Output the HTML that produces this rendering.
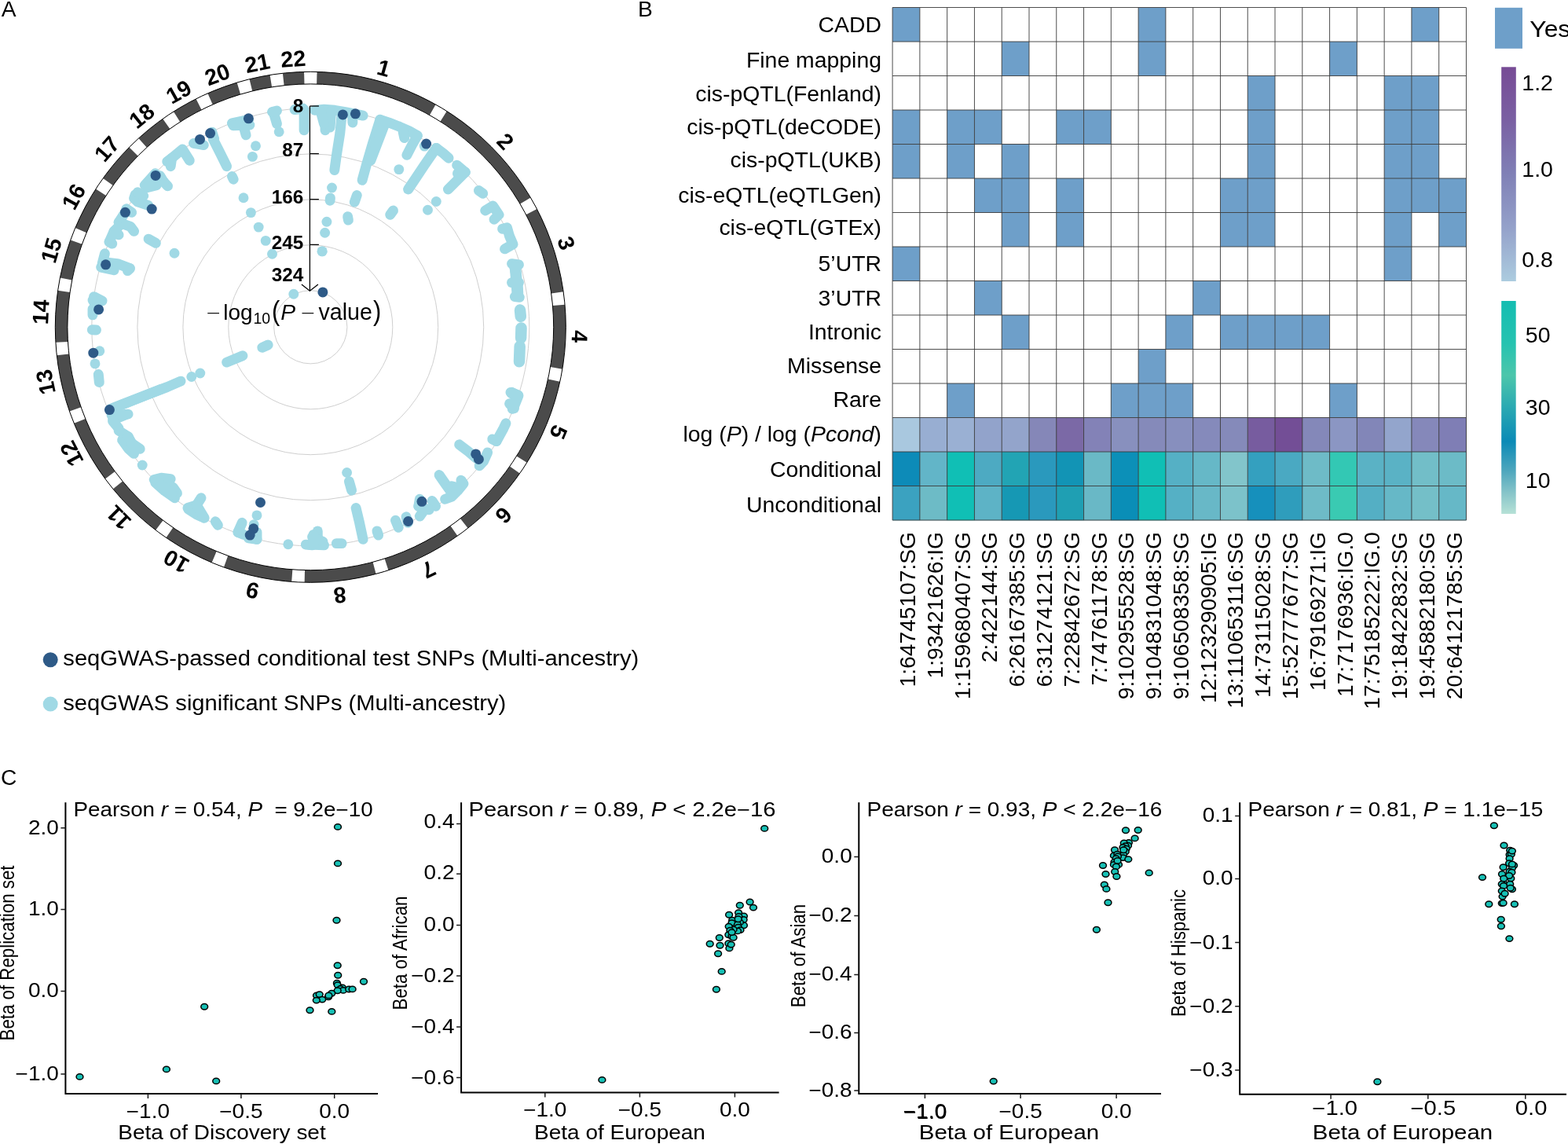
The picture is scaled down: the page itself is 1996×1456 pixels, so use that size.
<!DOCTYPE html>
<html lang="en"><head><meta charset="utf-8"><title>Figure</title>
<style>html,body{margin:0;padding:0;background:#fff}body{width:1996px;height:1456px;overflow:hidden}svg{display:block}text{white-space:pre}</style>
</head><body>
<svg width="1996" height="1456" viewBox="0 0 1996 1456" font-family='"Liberation Sans", sans-serif'>
<rect width="1996" height="1456" fill="#fff"/>
<g font-family='"Liberation Sans", sans-serif' font-size="28.2" fill="#000"><text x="1.8" y="20.9">A</text><text x="812.1" y="20.7">B</text><text x="1.1" y="998.9">C</text></g>
<g id="panelA">
<circle cx="395.3" cy="416.3" r="46.6" fill="none" stroke="#cfcfcf" stroke-width="1"/>
<circle cx="395.3" cy="416.3" r="104.5" fill="none" stroke="#cfcfcf" stroke-width="1"/>
<circle cx="395.3" cy="416.3" r="162.4" fill="none" stroke="#cfcfcf" stroke-width="1"/>
<circle cx="395.3" cy="416.3" r="220.4" fill="none" stroke="#cfcfcf" stroke-width="1"/>
<circle cx="395.3" cy="416.3" r="278.5" fill="none" stroke="#cfcfcf" stroke-width="1"/>
<g fill="none" stroke="#a0d9e5" stroke-width="12.9" stroke-linecap="round" stroke-linejoin="round">
<path d="M400.5 140.3 L412.5 139.2 L426.1 140.3 L439.6 142.5 L462.1 147.1"/>
<path d="M414.0 142.5 L414.0 165.8"/>
<path d="M421.6 142.5 L420.1 162.1"/>
<path d="M408.0 141.0 L412.5 157.6"/>
<path d="M435.1 145.6 L432.8 169.6 L428.3 198.2 L425.8 216.5"/>
<path d="M448.6 148.6 L448.9 156.1"/>
<path d="M422.5 239.0 l0.01 0"/>
<path d="M420.4 252.0 L420.1 255.3"/>
<path d="M415.9 282.3 l0.01 0"/>
<path d="M413.6 296.3 l0.01 0"/>
<path d="M410.1 319.9 l0.01 0"/>
<path d="M483.9 152.3 L474.2 183.1 L466.7 208.7 L461.1 229.3"/>
<path d="M489.2 159.1 L471.9 204.2"/>
<path d="M483.9 152.3 L495.2 156.1 L508.7 161.3 L520.8 166.6 L531.3 172.6"/>
<path d="M513.2 168.1 L514.8 175.6"/>
<path d="M531.3 172.6 L525.3 183.1 L517.8 197.4"/>
<path d="M507.8 215.6 l0.01 0"/>
<path d="M500.5 268.0 L496.7 273.3"/>
<path d="M454.3 248.5 L451.3 257.1"/>
<path d="M442.6 275.6 L443.4 280.1"/>
<path d="M540.3 186.1 l0.01 0"/>
<path d="M555.3 188.4 L540.3 210.2 L528.3 228.2 L519.6 241.0"/>
<path d="M555.3 188.4 L564.3 195.2 L571.1 201.2"/>
<path d="M555.3 256.5 l0.01 0"/>
<path d="M544.5 267.3 l0.01 0"/>
<path d="M581.6 210.2 L592.2 219.2"/>
<path d="M582.4 220.7 L592.2 219.2"/>
<path d="M592.2 219.2 L579.4 232.0 L570.4 241.0"/>
<path d="M609.4 242.5 L614.7 246.3"/>
<path d="M617.7 268.0 L627.5 262.0 L635.0 273.3 L629.0 279.3"/>
<path d="M639.5 291.3 L645.5 289.8 L648.5 300.4 L653.0 310.9 L642.5 316.9"/>
<path d="M410.1 319.9 l0.01 0"/>
<path d="M651.5 335.6 L660.5 336.8"/>
<path d="M654.5 338.6 L656.8 349.1"/>
<path d="M651.5 359.6 L660.5 359.6"/>
<path d="M659.0 361.1 L659.8 373.1"/>
<path d="M655.3 377.6 L661.3 378.4"/>
<path d="M650.0 499.4 L659.8 503.1"/>
<path d="M657.5 503.9 L652.3 520.4"/>
<path d="M648.5 513.7 L654.5 519.7"/>
<path d="M662.0 394.5 L662.8 402.9" stroke-width="14.5"/>
<path d="M663.5 417.5 L663.1 430.2" stroke-width="14.5"/>
<path d="M661.7 440.8 L661.0 460.3" stroke-width="14.5"/>
<path d="M656.0 340.1 L659.0 376.1" stroke-width="14.5"/>
<path d="M651.5 500.1 L659.0 503.9 L653.0 518.9" stroke-width="14.5"/>
<path d="M644.0 538.8 L641.0 545.1 L636.5 553.4 L632.0 561.6"/>
<path d="M626.7 558.9 L632.0 561.6"/>
<path d="M584.6 565.8 L595.9 574.4 L606.4 583.4"/>
<path d="M620.7 575.9 L615.5 587.2 L610.2 592.9"/>
<path d="M559.1 604.5 L567.4 616.5 L574.9 627.0"/>
<path d="M586.9 611.2 L589.9 615.7 L582.4 624.8 L574.9 632.3 L566.6 635.3"/>
<path d="M574.9 618.7 L580.9 620.2"/>
<path d="M534.3 635.3 L532.8 644.3"/>
<path d="M550.1 637.5 L554.6 644.3"/>
<path d="M540.3 648.8 L534.3 657.1"/>
<path d="M532.8 644.3 L546.3 648.8"/>
<path d="M503.5 662.3 L507.2 671.3"/>
<path d="M517.0 657.8 L519.3 665.3"/>
<path d="M453.1 646.5 L457.6 665.3 L462.1 686.4"/>
<path d="M479.9 675.9 L481.7 681.1"/>
<path d="M441.6 601.5 l0.01 0"/>
<path d="M444.4 612.7 L447.6 624.0"/>
<path d="M404.3 675.9 L404.3 692.4"/>
<path d="M393.0 693.1 L412.5 693.9"/>
<path d="M397.5 683.4 L411.0 689.4"/>
<path d="M428.3 691.6 L435.1 691.6"/>
<path d="M387.1 139.5 L387.1 165.8"/>
<path d="M375.1 139.5 L385.6 138.0"/>
<path d="M348.0 142.5 L352.5 157.6"/>
<path d="M355.2 167.8 l0.01 0"/>
<path d="M346.5 142.5 L352.5 141.0"/>
<path d="M295.4 156.8 L316.4 152.3"/>
<path d="M296.9 159.8 L317.9 159.1"/>
<path d="M310.4 162.1 L313.1 171.9"/>
<path d="M325.5 185.7 l0.01 0"/>
<path d="M321.4 199.4 l0.01 0"/>
<path d="M246.5 182.4 L259.3 184.6"/>
<path d="M269.8 168.1 L272.8 177.1"/>
<path d="M271.3 177.1 L280.4 195.2 L288.6 211.7"/>
<path d="M295.4 224.5 L297.2 228.2"/>
<path d="M212.7 205.7 L218.7 201.2 L232.3 189.9 L241.3 204.2"/>
<path d="M217.2 211.7 L218.7 201.2"/>
<path d="M197.7 220.7 L184.2 235.7"/>
<path d="M199.2 235.7 L187.2 238.7"/>
<path d="M208.2 231.2 L213.5 236.9"/>
<path d="M203.7 223.7 L208.2 231.2"/>
<path d="M172.1 247.8 L170.6 252.3 L175.2 256.8 L188.7 261.3"/>
<path d="M175.2 244.8 L182.7 249.3"/>
<path d="M160.9 265.8 L167.6 270.3"/>
<path d="M159.4 270.3 L151.1 283.1"/>
<path d="M151.1 283.1 L166.1 288.3 L170.6 294.3"/>
<path d="M145.1 294.3 L151.1 298.9"/>
<path d="M139.1 307.9 L142.8 310.1"/>
<path d="M151.1 288.3 L145.1 294.3 L139.1 307.9"/>
<path d="M189.0 304.1 L198.4 309.4"/>
<path d="M222.0 322.2 l0.01 0"/>
<path d="M310.0 251.7 l0.01 0"/>
<path d="M319.4 270.6 l0.01 0"/>
<path d="M329.2 289.1 l0.01 0"/>
<path d="M338.2 306.4 l0.01 0"/>
<path d="M346.5 323.2 l0.01 0"/>
<path d="M133.4 322.8 L130.1 335.6"/>
<path d="M128.6 340.1 L145.1 343.8"/>
<path d="M134.6 334.0 L149.6 335.6 L165.4 341.6"/>
<path d="M162.4 344.6 L165.4 341.6"/>
<path d="M119.5 377.6 L130.1 382.9"/>
<path d="M118.0 382.1 L121.0 386.7"/>
<path d="M118.0 393.4 L118.0 400.9"/>
<path d="M117.3 419.7 L122.5 420.0"/>
<path d="M126.8 446.8 l0.01 0"/>
<path d="M121.0 462.9 l0.01 0"/>
<path d="M125.3 476.5 L126.3 486.6"/>
<path d="M140.6 520.4 L175.2 506.9 L212.7 492.6 L230.0 485.1"/>
<path d="M143.6 519.7 L205.2 495.2"/>
<path d="M243.8 479.5 l0.01 0"/>
<path d="M254.8 475.0 l0.01 0"/>
<path d="M288.6 461.1 L308.9 452.8"/>
<path d="M333.7 442.3 L341.2 439.0"/>
<path d="M373.8 374.3 l0.01 0"/>
<path d="M143.6 534.6 L160.1 527.8"/>
<path d="M142.1 528.6 L163.1 527.1"/>
<path d="M143.6 536.1 L151.1 545.1"/>
<path d="M151.1 548.1 L163.1 555.6 L166.1 563.1 L178.2 571.4"/>
<path d="M155.6 560.1 L163.1 570.6 L170.6 577.4"/>
<path d="M163.1 555.6 L172.1 572.1"/>
<path d="M181.2 592.0 l0.01 0"/>
<path d="M196.2 610.5 L205.2 608.2 L217.2 609.7"/>
<path d="M197.7 614.2 L209.7 624.8 L222.5 633.8"/>
<path d="M208.2 614.2 L220.2 620.2 L225.5 627.8"/>
<path d="M205.2 617.2 L218.7 629.3"/>
<path d="M256.0 633.8 L250.3 642.8"/>
<path d="M239.0 646.5 L250.3 642.8"/>
<path d="M239.8 648.0 L250.3 654.8 L260.1 659.3"/>
<path d="M250.3 642.8 L259.3 657.8"/>
<path d="M274.3 663.8 L277.4 668.3"/>
<path d="M308.2 665.3 L302.9 677.4"/>
<path d="M302.9 677.4 L310.4 680.4"/>
<path d="M327.0 655.9 l0.01 0"/>
<path d="M323.2 667.6 l0.01 0"/>
<path d="M327.0 677.4 L327.0 686.4"/>
<path d="M316.4 684.9 L327.0 686.4"/>
<path d="M366.8 692.7 l0.01 0"/>
<path d="M389.3 693.1 L397.6 693.9"/>
<path d="M399.1 680.4 L399.1 692.4"/>
</g>
<g fill="#2e5a87">
<circle cx="436.4" cy="145.9" r="6.5"/>
<circle cx="452.4" cy="144.8" r="6.5"/>
<circle cx="542.6" cy="183.1" r="6.5"/>
<circle cx="410.9" cy="371.9" r="6.5"/>
<circle cx="605.7" cy="577.9" r="6.5"/>
<circle cx="609.4" cy="584.5" r="6.5"/>
<circle cx="537.0" cy="638.3" r="6.5"/>
<circle cx="519.6" cy="663.5" r="6.5"/>
<circle cx="316.4" cy="150.8" r="6.5"/>
<circle cx="267.6" cy="169.6" r="6.5"/>
<circle cx="254.5" cy="177.4" r="6.5"/>
<circle cx="198.1" cy="223.4" r="6.5"/>
<circle cx="193.2" cy="266.1" r="6.5"/>
<circle cx="159.4" cy="270.3" r="6.5"/>
<circle cx="134.6" cy="336.8" r="6.5"/>
<circle cx="125.6" cy="393.9" r="6.5"/>
<circle cx="118.8" cy="449.2" r="6.5"/>
<circle cx="139.4" cy="521.6" r="6.5"/>
<circle cx="331.5" cy="639.5" r="6.5"/>
<circle cx="322.7" cy="672.8" r="6.5"/>
<circle cx="318.2" cy="681.1" r="6.5"/>
</g>
<circle cx="395.3" cy="416.3" r="317.2" fill="none" stroke="#4b4b4b" stroke-width="15.600000000000023"/>
<path d="M387.08 91.40 A325.0 325.0 0 0 1 403.52 91.40 L403.13 107.00 A309.4 309.4 0 0 0 387.47 107.00 Z" fill="#fff"/>
<path d="M554.60 133.02 A325.0 325.0 0 0 1 568.72 141.44 L560.40 154.63 A309.4 309.4 0 0 0 546.95 146.61 Z" fill="#fff"/>
<path d="M675.47 251.59 A325.0 325.0 0 0 1 683.45 265.98 L669.62 273.20 A309.4 309.4 0 0 0 662.02 259.50 Z" fill="#fff"/>
<path d="M717.18 371.35 A325.0 325.0 0 0 1 719.04 387.69 L703.50 389.07 A309.4 309.4 0 0 0 701.73 373.51 Z" fill="#fff"/>
<path d="M715.89 469.66 A325.0 325.0 0 0 1 712.78 485.81 L697.54 482.48 A309.4 309.4 0 0 0 700.50 467.10 Z" fill="#fff"/>
<path d="M670.77 588.76 A325.0 325.0 0 0 1 661.69 602.48 L648.90 593.54 A309.4 309.4 0 0 0 657.54 580.49 Z" fill="#fff"/>
<path d="M595.61 672.23 A325.0 325.0 0 0 1 582.41 682.04 L573.43 669.28 A309.4 309.4 0 0 0 586.00 659.94 Z" fill="#fff"/>
<path d="M494.38 725.83 A325.0 325.0 0 0 1 478.59 730.45 L474.60 715.37 A309.4 309.4 0 0 0 489.63 710.97 Z" fill="#fff"/>
<path d="M387.64 741.21 A325.0 325.0 0 0 1 371.21 740.41 L372.37 724.85 A309.4 309.4 0 0 0 388.01 725.61 Z" fill="#fff"/>
<path d="M284.94 721.99 A325.0 325.0 0 0 1 269.62 716.02 L275.65 701.63 A309.4 309.4 0 0 0 290.24 707.32 Z" fill="#fff"/>
<path d="M211.45 684.30 A325.0 325.0 0 0 1 198.13 674.66 L207.59 662.26 A309.4 309.4 0 0 0 220.28 671.44 Z" fill="#fff"/>
<path d="M143.98 622.37 A325.0 325.0 0 0 1 133.88 609.39 L146.43 600.12 A309.4 309.4 0 0 0 156.04 612.48 Z" fill="#fff"/>
<path d="M94.29 538.84 A325.0 325.0 0 0 1 88.47 523.45 L103.20 518.31 A309.4 309.4 0 0 0 108.73 532.95 Z" fill="#fff"/>
<path d="M72.29 452.25 A325.0 325.0 0 0 1 70.89 435.86 L86.46 434.92 A309.4 309.4 0 0 0 87.80 450.52 Z" fill="#fff"/>
<path d="M73.66 369.66 A325.0 325.0 0 0 1 76.43 353.45 L91.74 356.47 A309.4 309.4 0 0 0 89.10 371.90 Z" fill="#fff"/>
<path d="M89.80 305.41 A325.0 325.0 0 0 1 95.80 290.10 L110.18 296.15 A309.4 309.4 0 0 0 104.47 310.73 Z" fill="#fff"/>
<path d="M121.96 240.48 A325.0 325.0 0 0 1 131.21 226.88 L143.88 235.97 A309.4 309.4 0 0 0 135.08 248.92 Z" fill="#fff"/>
<path d="M164.49 187.50 A325.0 325.0 0 0 1 176.36 176.11 L186.87 187.64 A309.4 309.4 0 0 0 175.57 198.48 Z" fill="#fff"/>
<path d="M207.26 151.22 A325.0 325.0 0 0 1 220.92 142.05 L229.29 155.21 A309.4 309.4 0 0 0 216.29 163.94 Z" fill="#fff"/>
<path d="M249.52 125.83 A325.0 325.0 0 0 1 264.41 118.82 L270.69 133.10 A309.4 309.4 0 0 0 256.52 139.77 Z" fill="#fff"/>
<path d="M301.64 105.09 A325.0 325.0 0 0 1 317.50 100.75 L321.24 115.90 A309.4 309.4 0 0 0 306.13 120.03 Z" fill="#fff"/>
<path d="M343.62 95.44 A325.0 325.0 0 0 1 359.92 93.23 L361.62 108.74 A309.4 309.4 0 0 0 346.10 110.84 Z" fill="#fff"/>
<circle cx="395.3" cy="416.3" r="325.0" fill="none" stroke="#000" stroke-width="1"/>
<circle cx="395.3" cy="416.3" r="309.4" fill="none" stroke="#000" stroke-width="1"/>
<g font-family='"Liberation Sans", sans-serif' font-weight="bold" font-size="28.5" text-anchor="middle" fill="#000">
<text transform="translate(485.9 96.1) rotate(15.8)" x="0" y="0">1</text>
<text transform="translate(636.3 186.8) rotate(46.4)" x="0" y="0">2</text>
<text transform="translate(711.5 312.6) rotate(71.8)" x="0" y="0">3</text>
<text transform="translate(727.9 427.9) rotate(92.0)" x="0" y="0">4</text>
<text transform="translate(701.8 546.1) rotate(113.0)" x="0" y="0">5</text>
<text transform="translate(634.0 648.9) rotate(134.2)" x="0" y="0">6</text>
<text transform="translate(541.1 716.0) rotate(154.1)" x="0" y="0">7</text>
<text transform="translate(431.6 747.6) rotate(173.8)" x="0" y="0">8</text>
<text transform="translate(323.4 741.8) rotate(192.5)" x="0" y="0">9</text>
<text transform="translate(229.3 706.1) rotate(209.8)" x="0" y="0">10</text>
<text transform="translate(158.1 651.9) rotate(225.2)" x="0" y="0">11</text>
<text transform="translate(99.9 572.7) rotate(242.1)" x="0" y="0">12</text>
<text transform="translate(67.7 484.2) rotate(258.3)" x="0" y="0">13</text>
<text transform="translate(61.8 397.7) rotate(273.2)" x="0" y="0">14</text>
<text transform="translate(74.8 321.4) rotate(286.5)" x="0" y="0">15</text>
<text transform="translate(102.5 255.0) rotate(298.8)" x="0" y="0">16</text>
<text transform="translate(143.5 195.9) rotate(311.2)" x="0" y="0">17</text>
<text transform="translate(186.5 155.2) rotate(321.3)" x="0" y="0">18</text>
<text transform="translate(232.2 125.6) rotate(330.7)" x="0" y="0">19</text>
<text transform="translate(280.1 104.1) rotate(339.8)" x="0" y="0">20</text>
<text transform="translate(329.5 90.1) rotate(348.6)" x="0" y="0">21</text>
<text transform="translate(373.9 84.7) rotate(356.3)" x="0" y="0">22</text>
</g>
<path d="M394.4 135.0 V370.3" stroke="#000" stroke-width="1.3" fill="none"/>
<path d="M383.9 362.1 L394.4 370.3 L404.9 362.1" stroke="#000" stroke-width="1.3" fill="none"/>
<g font-family='"Liberation Sans", sans-serif' font-weight="bold" font-size="24.3" text-anchor="end" fill="#000">
<path d="M394.4 135.0 H405.9" stroke="#000" stroke-width="1.3"/>
<text x="386.2" y="143.3">8</text>
<path d="M394.4 195.6 H405.9" stroke="#000" stroke-width="1.3"/>
<text x="386.2" y="199.4">87</text>
<path d="M394.4 253.7 H405.9" stroke="#000" stroke-width="1.3"/>
<text x="386.2" y="258.5">166</text>
<path d="M394.4 311.4 H405.9" stroke="#000" stroke-width="1.3"/>
<text x="386.2" y="317.3">245</text>
<text x="386.2" y="357.5">324</text>
</g>

<g fill="#000" font-family='"Liberation Sans", sans-serif'>
<text transform="translate(262.4 403.85) scale(1.9 1)" font-size="16">&#8722;</text>
<text x="284.2" y="407" font-size="28">log</text>
<text x="322.4" y="411.9" font-size="19.5">10</text>
<text transform="translate(345.9 407.9) scale(1.12 1.25)" font-size="27.5">(</text>
<text x="357.2" y="407" font-size="28.3" font-style="italic">P</text>
<text transform="translate(382.66 403.85) scale(1.9 1)" font-size="16">&#8722;</text>
<text x="405.5" y="407" font-size="28.6">value</text>
<text transform="translate(475.1 407.9) scale(1.12 1.25)" font-size="27.5">)</text>
</g>
<circle cx="64.2" cy="839.7" r="9.5" fill="#2e5a87"/>
<circle cx="64.2" cy="896.1" r="9.5" fill="#a0d9e5"/>
<text x="80.3" y="847.0" font-family='"Liberation Sans", sans-serif' font-size="27" textLength="733" lengthAdjust="spacingAndGlyphs">seqGWAS-passed conditional test SNPs (Multi-ancestry)</text>
<text x="80.3" y="903.6" font-family='"Liberation Sans", sans-serif' font-size="27" textLength="564" lengthAdjust="spacingAndGlyphs">seqGWAS significant SNPs (Multi-ancestry)</text>
</g>
<g id="panelB">
<rect x="1136.10" y="9.50" width="34.78" height="43.50" fill="#6e9fc9"/>
<rect x="1449.12" y="9.50" width="34.78" height="43.50" fill="#6e9fc9"/>
<rect x="1796.92" y="9.50" width="34.78" height="43.50" fill="#6e9fc9"/>
<rect x="1275.22" y="53.00" width="34.78" height="43.50" fill="#6e9fc9"/>
<rect x="1449.12" y="53.00" width="34.78" height="43.50" fill="#6e9fc9"/>
<rect x="1692.58" y="53.00" width="34.78" height="43.50" fill="#6e9fc9"/>
<rect x="1588.24" y="96.50" width="34.78" height="43.50" fill="#6e9fc9"/>
<rect x="1762.14" y="96.50" width="34.78" height="43.50" fill="#6e9fc9"/>
<rect x="1796.92" y="96.50" width="34.78" height="43.50" fill="#6e9fc9"/>
<rect x="1136.10" y="140.00" width="34.78" height="43.50" fill="#6e9fc9"/>
<rect x="1205.66" y="140.00" width="34.78" height="43.50" fill="#6e9fc9"/>
<rect x="1240.44" y="140.00" width="34.78" height="43.50" fill="#6e9fc9"/>
<rect x="1344.78" y="140.00" width="34.78" height="43.50" fill="#6e9fc9"/>
<rect x="1379.56" y="140.00" width="34.78" height="43.50" fill="#6e9fc9"/>
<rect x="1588.24" y="140.00" width="34.78" height="43.50" fill="#6e9fc9"/>
<rect x="1762.14" y="140.00" width="34.78" height="43.50" fill="#6e9fc9"/>
<rect x="1796.92" y="140.00" width="34.78" height="43.50" fill="#6e9fc9"/>
<rect x="1136.10" y="183.50" width="34.78" height="43.50" fill="#6e9fc9"/>
<rect x="1205.66" y="183.50" width="34.78" height="43.50" fill="#6e9fc9"/>
<rect x="1275.22" y="183.50" width="34.78" height="43.50" fill="#6e9fc9"/>
<rect x="1588.24" y="183.50" width="34.78" height="43.50" fill="#6e9fc9"/>
<rect x="1762.14" y="183.50" width="34.78" height="43.50" fill="#6e9fc9"/>
<rect x="1796.92" y="183.50" width="34.78" height="43.50" fill="#6e9fc9"/>
<rect x="1240.44" y="227.00" width="34.78" height="43.50" fill="#6e9fc9"/>
<rect x="1275.22" y="227.00" width="34.78" height="43.50" fill="#6e9fc9"/>
<rect x="1344.78" y="227.00" width="34.78" height="43.50" fill="#6e9fc9"/>
<rect x="1553.46" y="227.00" width="34.78" height="43.50" fill="#6e9fc9"/>
<rect x="1588.24" y="227.00" width="34.78" height="43.50" fill="#6e9fc9"/>
<rect x="1762.14" y="227.00" width="34.78" height="43.50" fill="#6e9fc9"/>
<rect x="1796.92" y="227.00" width="34.78" height="43.50" fill="#6e9fc9"/>
<rect x="1831.70" y="227.00" width="34.78" height="43.50" fill="#6e9fc9"/>
<rect x="1275.22" y="270.50" width="34.78" height="43.50" fill="#6e9fc9"/>
<rect x="1344.78" y="270.50" width="34.78" height="43.50" fill="#6e9fc9"/>
<rect x="1553.46" y="270.50" width="34.78" height="43.50" fill="#6e9fc9"/>
<rect x="1588.24" y="270.50" width="34.78" height="43.50" fill="#6e9fc9"/>
<rect x="1762.14" y="270.50" width="34.78" height="43.50" fill="#6e9fc9"/>
<rect x="1831.70" y="270.50" width="34.78" height="43.50" fill="#6e9fc9"/>
<rect x="1136.10" y="314.00" width="34.78" height="43.50" fill="#6e9fc9"/>
<rect x="1762.14" y="314.00" width="34.78" height="43.50" fill="#6e9fc9"/>
<rect x="1240.44" y="357.50" width="34.78" height="43.50" fill="#6e9fc9"/>
<rect x="1518.68" y="357.50" width="34.78" height="43.50" fill="#6e9fc9"/>
<rect x="1275.22" y="401.00" width="34.78" height="43.50" fill="#6e9fc9"/>
<rect x="1483.90" y="401.00" width="34.78" height="43.50" fill="#6e9fc9"/>
<rect x="1553.46" y="401.00" width="34.78" height="43.50" fill="#6e9fc9"/>
<rect x="1588.24" y="401.00" width="34.78" height="43.50" fill="#6e9fc9"/>
<rect x="1623.02" y="401.00" width="34.78" height="43.50" fill="#6e9fc9"/>
<rect x="1657.80" y="401.00" width="34.78" height="43.50" fill="#6e9fc9"/>
<rect x="1449.12" y="444.50" width="34.78" height="43.50" fill="#6e9fc9"/>
<rect x="1205.66" y="488.00" width="34.78" height="43.50" fill="#6e9fc9"/>
<rect x="1414.34" y="488.00" width="34.78" height="43.50" fill="#6e9fc9"/>
<rect x="1449.12" y="488.00" width="34.78" height="43.50" fill="#6e9fc9"/>
<rect x="1483.90" y="488.00" width="34.78" height="43.50" fill="#6e9fc9"/>
<rect x="1692.58" y="488.00" width="34.78" height="43.50" fill="#6e9fc9"/>
<rect x="1136.10" y="531.50" width="35.08" height="43.80" fill="#a9c8df"/>
<rect x="1170.88" y="531.50" width="35.08" height="43.80" fill="#98aed2"/>
<rect x="1205.66" y="531.50" width="35.08" height="43.80" fill="#9ab0d3"/>
<rect x="1240.44" y="531.50" width="35.08" height="43.80" fill="#92a3cb"/>
<rect x="1275.22" y="531.50" width="35.08" height="43.80" fill="#93a4cb"/>
<rect x="1310.00" y="531.50" width="35.08" height="43.80" fill="#8587b8"/>
<rect x="1344.78" y="531.50" width="35.08" height="43.80" fill="#7b69a6"/>
<rect x="1379.56" y="531.50" width="35.08" height="43.80" fill="#8382b7"/>
<rect x="1414.34" y="531.50" width="35.08" height="43.80" fill="#8890be"/>
<rect x="1449.12" y="531.50" width="35.08" height="43.80" fill="#858aba"/>
<rect x="1483.90" y="531.50" width="35.08" height="43.80" fill="#878fbe"/>
<rect x="1518.68" y="531.50" width="35.08" height="43.80" fill="#858abb"/>
<rect x="1553.46" y="531.50" width="35.08" height="43.80" fill="#858aba"/>
<rect x="1588.24" y="531.50" width="35.08" height="43.80" fill="#775c9f"/>
<rect x="1623.02" y="531.50" width="35.08" height="43.80" fill="#734e96"/>
<rect x="1657.80" y="531.50" width="35.08" height="43.80" fill="#8488b9"/>
<rect x="1692.58" y="531.50" width="35.08" height="43.80" fill="#8b96c3"/>
<rect x="1727.36" y="531.50" width="35.08" height="43.80" fill="#8286b8"/>
<rect x="1762.14" y="531.50" width="35.08" height="43.80" fill="#93a5cc"/>
<rect x="1796.92" y="531.50" width="35.08" height="43.80" fill="#8588ba"/>
<rect x="1831.70" y="531.50" width="35.08" height="43.80" fill="#7f7eb5"/>
<rect x="1136.10" y="575.00" width="35.08" height="43.80" fill="#0d8bb8"/>
<rect x="1170.88" y="575.00" width="35.08" height="43.80" fill="#62b5c8"/>
<rect x="1205.66" y="575.00" width="35.08" height="43.80" fill="#10bfb5"/>
<rect x="1240.44" y="575.00" width="35.08" height="43.80" fill="#4daac2"/>
<rect x="1275.22" y="575.00" width="35.08" height="43.80" fill="#22a4b4"/>
<rect x="1310.00" y="575.00" width="35.08" height="43.80" fill="#2a99bd"/>
<rect x="1344.78" y="575.00" width="35.08" height="43.80" fill="#1294b5"/>
<rect x="1379.56" y="575.00" width="35.08" height="43.80" fill="#6ab9c6"/>
<rect x="1414.34" y="575.00" width="35.08" height="43.80" fill="#0c90b8"/>
<rect x="1449.12" y="575.00" width="35.08" height="43.80" fill="#10bfb5"/>
<rect x="1483.90" y="575.00" width="35.08" height="43.80" fill="#55b0c5"/>
<rect x="1518.68" y="575.00" width="35.08" height="43.80" fill="#66b8c7"/>
<rect x="1553.46" y="575.00" width="35.08" height="43.80" fill="#82c5cb"/>
<rect x="1588.24" y="575.00" width="35.08" height="43.80" fill="#34a0bf"/>
<rect x="1623.02" y="575.00" width="35.08" height="43.80" fill="#4aa9c2"/>
<rect x="1657.80" y="575.00" width="35.08" height="43.80" fill="#6ebbc7"/>
<rect x="1692.58" y="575.00" width="35.08" height="43.80" fill="#33c8b4"/>
<rect x="1727.36" y="575.00" width="35.08" height="43.80" fill="#5ab2c5"/>
<rect x="1762.14" y="575.00" width="35.08" height="43.80" fill="#5ab2c5"/>
<rect x="1796.92" y="575.00" width="35.08" height="43.80" fill="#72bec8"/>
<rect x="1831.70" y="575.00" width="35.08" height="43.80" fill="#6cbbc7"/>
<rect x="1136.10" y="618.50" width="35.08" height="43.80" fill="#3ba2c0"/>
<rect x="1170.88" y="618.50" width="35.08" height="43.80" fill="#6dbbc6"/>
<rect x="1205.66" y="618.50" width="35.08" height="43.80" fill="#10bfb5"/>
<rect x="1240.44" y="618.50" width="35.08" height="43.80" fill="#5db3c6"/>
<rect x="1275.22" y="618.50" width="35.08" height="43.80" fill="#1698b4"/>
<rect x="1310.00" y="618.50" width="35.08" height="43.80" fill="#2a99bd"/>
<rect x="1344.78" y="618.50" width="35.08" height="43.80" fill="#1f9fb3"/>
<rect x="1379.56" y="618.50" width="35.08" height="43.80" fill="#69b8c6"/>
<rect x="1414.34" y="618.50" width="35.08" height="43.80" fill="#0a8eb7"/>
<rect x="1449.12" y="618.50" width="35.08" height="43.80" fill="#10bfb5"/>
<rect x="1483.90" y="618.50" width="35.08" height="43.80" fill="#55b0c5"/>
<rect x="1518.68" y="618.50" width="35.08" height="43.80" fill="#68b8c7"/>
<rect x="1553.46" y="618.50" width="35.08" height="43.80" fill="#7cc2ca"/>
<rect x="1588.24" y="618.50" width="35.08" height="43.80" fill="#1690bc"/>
<rect x="1623.02" y="618.50" width="35.08" height="43.80" fill="#2f9dbc"/>
<rect x="1657.80" y="618.50" width="35.08" height="43.80" fill="#6ebbc7"/>
<rect x="1692.58" y="618.50" width="35.08" height="43.80" fill="#3acab2"/>
<rect x="1727.36" y="618.50" width="35.08" height="43.80" fill="#54afc4"/>
<rect x="1762.14" y="618.50" width="35.08" height="43.80" fill="#66b8c7"/>
<rect x="1796.92" y="618.50" width="35.08" height="43.80" fill="#74bfc8"/>
<rect x="1831.70" y="618.50" width="35.08" height="43.80" fill="#66b8c7"/>
<path d="M1136.10 9.50V662.00M1170.88 9.50V662.00M1205.66 9.50V662.00M1240.44 9.50V662.00M1275.22 9.50V662.00M1310.00 9.50V662.00M1344.78 9.50V662.00M1379.56 9.50V662.00M1414.34 9.50V662.00M1449.12 9.50V662.00M1483.90 9.50V662.00M1518.68 9.50V662.00M1553.46 9.50V662.00M1588.24 9.50V662.00M1623.02 9.50V662.00M1657.80 9.50V662.00M1692.58 9.50V662.00M1727.36 9.50V662.00M1762.14 9.50V662.00M1796.92 9.50V662.00M1831.70 9.50V662.00M1866.48 9.50V662.00M1136.10 9.50H1866.48M1136.10 53.00H1866.48M1136.10 96.50H1866.48M1136.10 140.00H1866.48M1136.10 183.50H1866.48M1136.10 227.00H1866.48M1136.10 270.50H1866.48M1136.10 314.00H1866.48M1136.10 357.50H1866.48M1136.10 401.00H1866.48M1136.10 444.50H1866.48M1136.10 488.00H1866.48M1136.10 531.50H1866.48M1136.10 575.00H1866.48M1136.10 618.50H1866.48M1136.10 662.00H1866.48" stroke="#3a3a3a" stroke-width="0.9" fill="none"/>
<g font-family='"Liberation Sans", sans-serif' font-size="28.4" text-anchor="end" fill="#000">
<text x="1122.0" y="40.8">CADD</text>
<text x="1122.0" y="86.2">Fine mapping</text>
<text x="1122.0" y="129.4">cis-pQTL(Fenland)</text>
<text x="1122.0" y="171.4">cis-pQTL(deCODE)</text>
<text x="1122.0" y="213.4">cis-pQTL(UKB)</text>
<text x="1122.0" y="257.6">cis-eQTL(eQTLGen)</text>
<text x="1122.0" y="299.3">cis-eQTL(GTEx)</text>
<text x="1122.0" y="345.2">5&#8217;UTR</text>
<text x="1122.0" y="389.4">3&#8217;UTR</text>
<text x="1122.0" y="432.0">Intronic</text>
<text x="1122.0" y="475.4">Missense</text>
<text x="1122.0" y="517.6">Rare</text>
<text x="1122.0" y="562.0">log (<tspan font-style="italic">P</tspan>) / log (<tspan font-style="italic">Pcond</tspan>)</text>
<text x="1122.0" y="606.7">Conditional</text>
<text x="1122.0" y="652.0">Unconditional</text>
</g>
<g font-family='"Liberation Sans", sans-serif' font-size="28.2" text-anchor="end" fill="#000">
<text transform="translate(1165.09 677.0) rotate(-90)" x="0" y="0">1:64745107:SG</text>
<text transform="translate(1199.87 677.0) rotate(-90)" x="0" y="0">1:93421626:IG</text>
<text transform="translate(1234.65 677.0) rotate(-90)" x="0" y="0">1:159680407:SG</text>
<text transform="translate(1269.43 677.0) rotate(-90)" x="0" y="0">2:422144:SG</text>
<text transform="translate(1304.21 677.0) rotate(-90)" x="0" y="0">6:26167385:SG</text>
<text transform="translate(1338.99 677.0) rotate(-90)" x="0" y="0">6:31274121:SG</text>
<text transform="translate(1373.77 677.0) rotate(-90)" x="0" y="0">7:22842672:SG</text>
<text transform="translate(1408.55 677.0) rotate(-90)" x="0" y="0">7:74761178:SG</text>
<text transform="translate(1443.33 677.0) rotate(-90)" x="0" y="0">9:102955528:SG</text>
<text transform="translate(1478.11 677.0) rotate(-90)" x="0" y="0">9:104831048:SG</text>
<text transform="translate(1512.89 677.0) rotate(-90)" x="0" y="0">9:106508358:SG</text>
<text transform="translate(1547.67 677.0) rotate(-90)" x="0" y="0">12:123290905:IG</text>
<text transform="translate(1582.45 677.0) rotate(-90)" x="0" y="0">13:110653116:SG</text>
<text transform="translate(1617.23 677.0) rotate(-90)" x="0" y="0">14:73115028:SG</text>
<text transform="translate(1652.01 677.0) rotate(-90)" x="0" y="0">15:52777677:SG</text>
<text transform="translate(1686.79 677.0) rotate(-90)" x="0" y="0">16:79169271:IG</text>
<text transform="translate(1721.57 677.0) rotate(-90)" x="0" y="0">17:7176936:IG.0</text>
<text transform="translate(1756.35 677.0) rotate(-90)" x="0" y="0">17:75185222:IG.0</text>
<text transform="translate(1791.13 677.0) rotate(-90)" x="0" y="0">19:18422832:SG</text>
<text transform="translate(1825.91 677.0) rotate(-90)" x="0" y="0">19:45882180:SG</text>
<text transform="translate(1860.69 677.0) rotate(-90)" x="0" y="0">20:64121785:SG</text>
</g>

<defs>
<linearGradient id="gp" x1="0" y1="0" x2="0" y2="1">
<stop offset="0" stop-color="#774b95"/><stop offset="0.25" stop-color="#7a60a3"/><stop offset="0.5" stop-color="#8080b6"/><stop offset="0.75" stop-color="#94a1ca"/><stop offset="1" stop-color="#acccdf"/>
</linearGradient>
<linearGradient id="gt" x1="0" y1="0" x2="0" y2="1">
<stop offset="0" stop-color="#14bdb1"/><stop offset="0.2" stop-color="#26c3b0"/><stop offset="0.35" stop-color="#4cc6ab"/><stop offset="0.5" stop-color="#2aa9b2"/><stop offset="0.66" stop-color="#0b8ab6"/><stop offset="0.8" stop-color="#4fa7bd"/><stop offset="0.9" stop-color="#86c4c9"/><stop offset="1" stop-color="#b6e1d6"/>
</linearGradient>
</defs>
<rect x="1903" y="9.8" width="35" height="52" fill="#6e9fc9"/>
<rect x="1911.2" y="85.3" width="18.6" height="272.7" fill="url(#gp)"/>
<rect x="1911.2" y="383" width="18.5" height="271" fill="url(#gt)"/>
<g font-family='"Liberation Sans", sans-serif' font-size="28.5" fill="#000">
<text transform="translate(1947.3 46.8) scale(1.1 1)" font-size="29">Yes</text>
<text x="1937.3" y="114.9">1.2</text>
<text x="1937.3" y="225.3">1.0</text>
<text x="1937.3" y="340.2">0.8</text>
<text x="1941.8" y="435.8">50</text>
<text x="1941.8" y="528.1">30</text>
<text x="1941.8" y="621.1">10</text>
</g>

</g>
<g id="panelC">
<g fill="#17c0b5" stroke="#000" stroke-width="1.5">
<ellipse cx="260.2" cy="1281.2" rx="4.4" ry="3.7"/>
<ellipse cx="211.9" cy="1360.9" rx="4.4" ry="3.7"/>
<ellipse cx="101.5" cy="1370.4" rx="4.4" ry="3.7"/>
<ellipse cx="275.2" cy="1375.9" rx="4.4" ry="3.7"/>
<ellipse cx="428.5" cy="1171.2" rx="4.4" ry="3.7"/>
<ellipse cx="430.0" cy="1052.4" rx="4.4" ry="3.7"/>
<ellipse cx="430.0" cy="1098.9" rx="4.4" ry="3.7"/>
<ellipse cx="429.7" cy="1228.8" rx="4.4" ry="3.7"/>
<ellipse cx="430.2" cy="1241.2" rx="4.4" ry="3.7"/>
<ellipse cx="463.0" cy="1249.3" rx="4.4" ry="3.7"/>
<ellipse cx="428.9" cy="1251.2" rx="4.4" ry="3.7"/>
<ellipse cx="429.7" cy="1253.6" rx="4.4" ry="3.7"/>
<ellipse cx="435.9" cy="1257.0" rx="4.4" ry="3.7"/>
<ellipse cx="433.2" cy="1258.4" rx="4.4" ry="3.7"/>
<ellipse cx="436.9" cy="1260.4" rx="4.4" ry="3.7"/>
<ellipse cx="429.7" cy="1260.8" rx="4.4" ry="3.7"/>
<ellipse cx="444.2" cy="1259.0" rx="4.4" ry="3.7"/>
<ellipse cx="448.6" cy="1258.9" rx="4.4" ry="3.7"/>
<ellipse cx="422.2" cy="1264.2" rx="4.4" ry="3.7"/>
<ellipse cx="418.1" cy="1268.7" rx="4.4" ry="3.7"/>
<ellipse cx="418.4" cy="1266.9" rx="4.4" ry="3.7"/>
<ellipse cx="403.0" cy="1266.9" rx="4.4" ry="3.7"/>
<ellipse cx="406.7" cy="1265.6" rx="4.4" ry="3.7"/>
<ellipse cx="410.2" cy="1272.1" rx="4.4" ry="3.7"/>
<ellipse cx="402.8" cy="1273.1" rx="4.4" ry="3.7"/>
<ellipse cx="394.5" cy="1285.8" rx="4.4" ry="3.7"/>
<ellipse cx="422.3" cy="1287.4" rx="4.4" ry="3.7"/>
</g>
<path d="M83.4 1021.3V1391.9H481" stroke="#000" stroke-width="2.0" fill="none"/>
<path d="M83.4 1053.7h-6.0M83.4 1157.5h-6.0M83.4 1261.4h-6.0M83.4 1367.0h-6.0M188.4 1391.9v6.0M306.9 1391.9v6.0M425.7 1391.9v6.0" stroke="#1a1a1a" stroke-width="1.5" fill="none"/>
<g font-family='"Liberation Sans", sans-serif' font-size="25" fill="#000">
<text transform="translate(74.80000000000001 1061.6) scale(1.12 1)" text-anchor="end">2.0</text>
<text transform="translate(74.80000000000001 1165.4) scale(1.12 1)" text-anchor="end">1.0</text>
<text transform="translate(74.80000000000001 1269.3) scale(1.12 1)" text-anchor="end">0.0</text>
<text transform="translate(74.80000000000001 1374.9) scale(1.12 1)" text-anchor="end">&#8722;1.0</text>
<text transform="translate(188.4 1422.9) scale(1.12 1)" text-anchor="middle">&#8722;1.0</text>
<text transform="translate(306.9 1422.9) scale(1.12 1)" text-anchor="middle">&#8722;0.5</text>
<text transform="translate(425.7 1422.9) scale(1.12 1)" text-anchor="middle">0.0</text>
<text transform="translate(93.5 1038.5) scale(1.113 1)">Pearson <tspan font-style="italic">r</tspan> = 0.54, <tspan font-style="italic">P</tspan>  = 9.2e&#8722;10</text>
<text transform="translate(282.5 1449.5) scale(1.12 1)" text-anchor="middle" font-size="25">Beta of Discovery set</text>
<text transform="translate(17.5 1213) rotate(-90) scale(1 1.12)" text-anchor="middle" font-size="22.3">Beta of Replication set</text>
</g>
<g fill="#17c0b5" stroke="#000" stroke-width="1.5">
<ellipse cx="973.2" cy="1054.4" rx="4.4" ry="3.7"/>
<ellipse cx="918.7" cy="1236.4" rx="4.4" ry="3.7"/>
<ellipse cx="911.9" cy="1259.2" rx="4.4" ry="3.7"/>
<ellipse cx="766.4" cy="1374.4" rx="4.4" ry="3.7"/>
<ellipse cx="954.6" cy="1148.0" rx="4.4" ry="3.7"/>
<ellipse cx="959.0" cy="1155.1" rx="4.4" ry="3.7"/>
<ellipse cx="941.8" cy="1152.3" rx="4.4" ry="3.7"/>
<ellipse cx="928.1" cy="1164.3" rx="4.4" ry="3.7"/>
<ellipse cx="940.1" cy="1161.6" rx="4.4" ry="3.7"/>
<ellipse cx="946.9" cy="1166.0" rx="4.4" ry="3.7"/>
<ellipse cx="946.6" cy="1170.5" rx="4.4" ry="3.7"/>
<ellipse cx="940.4" cy="1166.4" rx="4.4" ry="3.7"/>
<ellipse cx="946.9" cy="1177.7" rx="4.4" ry="3.7"/>
<ellipse cx="932.2" cy="1171.2" rx="4.4" ry="3.7"/>
<ellipse cx="941.8" cy="1173.9" rx="4.4" ry="3.7"/>
<ellipse cx="931.5" cy="1174.6" rx="4.4" ry="3.7"/>
<ellipse cx="939.0" cy="1176.7" rx="4.4" ry="3.7"/>
<ellipse cx="939.7" cy="1180.1" rx="4.4" ry="3.7"/>
<ellipse cx="942.5" cy="1183.6" rx="4.4" ry="3.7"/>
<ellipse cx="939.0" cy="1184.9" rx="4.4" ry="3.7"/>
<ellipse cx="933.6" cy="1182.9" rx="4.4" ry="3.7"/>
<ellipse cx="927.7" cy="1179.1" rx="4.4" ry="3.7"/>
<ellipse cx="929.4" cy="1184.2" rx="4.4" ry="3.7"/>
<ellipse cx="927.4" cy="1189.7" rx="4.4" ry="3.7"/>
<ellipse cx="931.5" cy="1191.8" rx="4.4" ry="3.7"/>
<ellipse cx="933.6" cy="1193.2" rx="4.4" ry="3.7"/>
<ellipse cx="931.5" cy="1186.6" rx="4.4" ry="3.7"/>
<ellipse cx="939.7" cy="1169.8" rx="4.4" ry="3.7"/>
<ellipse cx="915.8" cy="1193.5" rx="4.4" ry="3.7"/>
<ellipse cx="903.7" cy="1201.2" rx="4.4" ry="3.7"/>
<ellipse cx="916.5" cy="1203.3" rx="4.4" ry="3.7"/>
<ellipse cx="927.4" cy="1200.7" rx="4.4" ry="3.7"/>
<ellipse cx="928.4" cy="1206.9" rx="4.4" ry="3.7"/>
<ellipse cx="930.7" cy="1202.1" rx="4.4" ry="3.7"/>
<ellipse cx="914.1" cy="1213.8" rx="4.4" ry="3.7"/>
</g>
<path d="M587.1 1021.3V1390.4H991.6" stroke="#000" stroke-width="2.0" fill="none"/>
<path d="M587.1 1048.6h-6.0M587.1 1112.3h-6.0M587.1 1177.4h-6.0M587.1 1242.1h-6.0M587.1 1306.9h-6.0M587.1 1371.6h-6.0M693.8 1390.4v6.0M814.4 1390.4v6.0M935.4 1390.4v6.0" stroke="#1a1a1a" stroke-width="1.5" fill="none"/>
<g font-family='"Liberation Sans", sans-serif' font-size="25" fill="#000">
<text transform="translate(578.5 1054.1) scale(1.12 1)" text-anchor="end">0.4</text>
<text transform="translate(578.5 1118.7) scale(1.12 1)" text-anchor="end">0.2</text>
<text transform="translate(578.5 1184.7) scale(1.12 1)" text-anchor="end">0.0</text>
<text transform="translate(578.5 1250.0) scale(1.12 1)" text-anchor="end">&#8722;0.2</text>
<text transform="translate(578.5 1314.8) scale(1.12 1)" text-anchor="end">&#8722;0.4</text>
<text transform="translate(578.5 1379.5) scale(1.12 1)" text-anchor="end">&#8722;0.6</text>
<text transform="translate(693.8 1421.4) scale(1.12 1)" text-anchor="middle">&#8722;1.0</text>
<text transform="translate(814.4 1421.4) scale(1.12 1)" text-anchor="middle">&#8722;0.5</text>
<text transform="translate(935.4 1421.4) scale(1.12 1)" text-anchor="middle">0.0</text>
<text transform="translate(596.5 1038.5) scale(1.165 1)">Pearson <tspan font-style="italic">r</tspan> = 0.89, <tspan font-style="italic">P</tspan> &lt; 2.2e&#8722;16</text>
<text transform="translate(789 1449.5) scale(1.12 1)" text-anchor="middle" font-size="25">Beta of European</text>
<text transform="translate(517.5 1213) rotate(-90) scale(1 1.12)" text-anchor="middle" font-size="22.3">Beta of African</text>
</g>
<g fill="#17c0b5" stroke="#000" stroke-width="1.5">
<ellipse cx="1264.7" cy="1376.1" rx="4.4" ry="3.7"/>
<ellipse cx="1433.0" cy="1056.7" rx="4.4" ry="3.7"/>
<ellipse cx="1448.7" cy="1056.5" rx="4.4" ry="3.7"/>
<ellipse cx="1444.6" cy="1066.9" rx="4.4" ry="3.7"/>
<ellipse cx="1436.9" cy="1072.4" rx="4.4" ry="3.7"/>
<ellipse cx="1430.8" cy="1073.0" rx="4.4" ry="3.7"/>
<ellipse cx="1436.0" cy="1076.3" rx="4.4" ry="3.7"/>
<ellipse cx="1432.7" cy="1076.8" rx="4.4" ry="3.7"/>
<ellipse cx="1429.5" cy="1078.5" rx="4.4" ry="3.7"/>
<ellipse cx="1433.8" cy="1080.1" rx="4.4" ry="3.7"/>
<ellipse cx="1431.1" cy="1082.9" rx="4.4" ry="3.7"/>
<ellipse cx="1432.7" cy="1084.0" rx="4.4" ry="3.7"/>
<ellipse cx="1430.0" cy="1087.8" rx="4.4" ry="3.7"/>
<ellipse cx="1429.5" cy="1091.6" rx="4.4" ry="3.7"/>
<ellipse cx="1436.3" cy="1093.6" rx="4.4" ry="3.7"/>
<ellipse cx="1430.2" cy="1081.8" rx="4.4" ry="3.7"/>
<ellipse cx="1419.0" cy="1081.8" rx="4.4" ry="3.7"/>
<ellipse cx="1417.9" cy="1088.9" rx="4.4" ry="3.7"/>
<ellipse cx="1422.3" cy="1087.3" rx="4.4" ry="3.7"/>
<ellipse cx="1422.9" cy="1090.0" rx="4.4" ry="3.7"/>
<ellipse cx="1420.7" cy="1092.7" rx="4.4" ry="3.7"/>
<ellipse cx="1418.5" cy="1097.1" rx="4.4" ry="3.7"/>
<ellipse cx="1424.0" cy="1100.4" rx="4.4" ry="3.7"/>
<ellipse cx="1417.9" cy="1100.4" rx="4.4" ry="3.7"/>
<ellipse cx="1422.6" cy="1095.5" rx="4.4" ry="3.7"/>
<ellipse cx="1420.9" cy="1102.9" rx="4.4" ry="3.7"/>
<ellipse cx="1419.2" cy="1109.5" rx="4.4" ry="3.7"/>
<ellipse cx="1421.4" cy="1115.5" rx="4.4" ry="3.7"/>
<ellipse cx="1404.0" cy="1101.5" rx="4.4" ry="3.7"/>
<ellipse cx="1407.5" cy="1112.5" rx="4.4" ry="3.7"/>
<ellipse cx="1405.8" cy="1126.0" rx="4.4" ry="3.7"/>
<ellipse cx="1408.4" cy="1131.4" rx="4.4" ry="3.7"/>
<ellipse cx="1410.5" cy="1148.8" rx="4.4" ry="3.7"/>
<ellipse cx="1395.9" cy="1183.2" rx="4.4" ry="3.7"/>
<ellipse cx="1462.7" cy="1110.9" rx="4.4" ry="3.7"/>
</g>
<path d="M1093.3 1021.3V1392.1H1478" stroke="#000" stroke-width="2.0" fill="none"/>
<path d="M1093.3 1090.5h-6.0M1093.3 1165.5h-6.0M1093.3 1240.4h-6.0M1093.3 1314.4h-6.0M1093.3 1388.0h-6.0M1177.4 1392.1v6.0M1299.1 1392.1v6.0M1421.1 1392.1v6.0" stroke="#1a1a1a" stroke-width="1.5" fill="none"/>
<g font-family='"Liberation Sans", sans-serif' font-size="25" fill="#000">
<text transform="translate(1084.7 1098.4) scale(1.12 1)" text-anchor="end">0.0</text>
<text transform="translate(1084.7 1173.4) scale(1.12 1)" text-anchor="end">&#8722;0.2</text>
<text transform="translate(1084.7 1248.3) scale(1.12 1)" text-anchor="end">&#8722;0.4</text>
<text transform="translate(1084.7 1322.3) scale(1.12 1)" text-anchor="end">&#8722;0.6</text>
<text transform="translate(1084.7 1395.9) scale(1.12 1)" text-anchor="end">&#8722;0.8</text>
<text transform="translate(1177.9 1424.1999999999998) scale(1.12 1)" text-anchor="middle">&#8722;1.0</text>
<text transform="translate(1177.4 1423.1) scale(1.12 1)" text-anchor="middle">&#8722;1.0</text>
<text transform="translate(1299.1 1423.1) scale(1.12 1)" text-anchor="middle">&#8722;0.5</text>
<text transform="translate(1421.1 1423.1) scale(1.12 1)" text-anchor="middle">0.0</text>
<text transform="translate(1103.5 1038.5) scale(1.12 1)">Pearson <tspan font-style="italic">r</tspan> = 0.93, <tspan font-style="italic">P</tspan> &lt; 2.2e&#8722;16</text>
<text transform="translate(1284.5 1449.5) scale(1.18 1)" text-anchor="middle" font-size="25">Beta of European</text>
<text transform="translate(1025 1216.5) rotate(-90) scale(1 1.12)" text-anchor="middle" font-size="22.3">Beta of Asian</text>
</g>
<g fill="#17c0b5" stroke="#000" stroke-width="1.5">
<ellipse cx="1753.4" cy="1376.8" rx="4.4" ry="3.7"/>
<ellipse cx="1901.9" cy="1050.7" rx="4.4" ry="3.7"/>
<ellipse cx="1914.5" cy="1076.0" rx="4.4" ry="3.7"/>
<ellipse cx="1922.2" cy="1082.3" rx="4.4" ry="3.7"/>
<ellipse cx="1921.6" cy="1087.8" rx="4.4" ry="3.7"/>
<ellipse cx="1923.8" cy="1087.3" rx="4.4" ry="3.7"/>
<ellipse cx="1924.9" cy="1083.1" rx="4.4" ry="3.7"/>
<ellipse cx="1921.6" cy="1092.7" rx="4.4" ry="3.7"/>
<ellipse cx="1921.1" cy="1098.8" rx="4.4" ry="3.7"/>
<ellipse cx="1927.1" cy="1101.5" rx="4.4" ry="3.7"/>
<ellipse cx="1924.9" cy="1104.8" rx="4.4" ry="3.7"/>
<ellipse cx="1924.9" cy="1099.9" rx="4.4" ry="3.7"/>
<ellipse cx="1913.6" cy="1103.7" rx="4.4" ry="3.7"/>
<ellipse cx="1921.6" cy="1109.2" rx="4.4" ry="3.7"/>
<ellipse cx="1924.4" cy="1110.3" rx="4.4" ry="3.7"/>
<ellipse cx="1912.0" cy="1112.5" rx="4.4" ry="3.7"/>
<ellipse cx="1923.3" cy="1118.0" rx="4.4" ry="3.7"/>
<ellipse cx="1921.1" cy="1114.5" rx="4.4" ry="3.7"/>
<ellipse cx="1914.0" cy="1124.1" rx="4.4" ry="3.7"/>
<ellipse cx="1914.2" cy="1118.2" rx="4.4" ry="3.7"/>
<ellipse cx="1911.8" cy="1125.2" rx="4.4" ry="3.7"/>
<ellipse cx="1922.2" cy="1125.2" rx="4.4" ry="3.7"/>
<ellipse cx="1914.0" cy="1127.4" rx="4.4" ry="3.7"/>
<ellipse cx="1924.9" cy="1131.8" rx="4.4" ry="3.7"/>
<ellipse cx="1922.7" cy="1130.3" rx="4.4" ry="3.7"/>
<ellipse cx="1911.8" cy="1134.0" rx="4.4" ry="3.7"/>
<ellipse cx="1912.6" cy="1141.1" rx="4.4" ry="3.7"/>
<ellipse cx="1915.6" cy="1137.3" rx="4.4" ry="3.7"/>
<ellipse cx="1887.0" cy="1116.6" rx="4.4" ry="3.7"/>
<ellipse cx="1895.3" cy="1150.7" rx="4.4" ry="3.7"/>
<ellipse cx="1911.8" cy="1149.6" rx="4.4" ry="3.7"/>
<ellipse cx="1913.6" cy="1149.3" rx="4.4" ry="3.7"/>
<ellipse cx="1927.9" cy="1150.7" rx="4.4" ry="3.7"/>
<ellipse cx="1910.7" cy="1170.2" rx="4.4" ry="3.7"/>
<ellipse cx="1910.9" cy="1178.8" rx="4.4" ry="3.7"/>
<ellipse cx="1921.4" cy="1194.6" rx="4.4" ry="3.7"/>
</g>
<path d="M1578.2 1021.3V1392.8H1994" stroke="#000" stroke-width="2.0" fill="none"/>
<path d="M1578.2 1038.4h-6.0M1578.2 1118.5h-6.0M1578.2 1199.6h-6.0M1578.2 1280.7h-6.0M1578.2 1362.1h-6.0M1694.1 1392.8v6.0M1817.8 1392.8v6.0M1941.8 1392.8v6.0" stroke="#1a1a1a" stroke-width="1.5" fill="none"/>
<g font-family='"Liberation Sans", sans-serif' font-size="25" fill="#000">
<text transform="translate(1569.6000000000001 1046.3) scale(1.12 1)" text-anchor="end">0.1</text>
<text transform="translate(1569.6000000000001 1126.4) scale(1.12 1)" text-anchor="end">0.0</text>
<text transform="translate(1569.6000000000001 1207.5) scale(1.12 1)" text-anchor="end">&#8722;0.1</text>
<text transform="translate(1569.6000000000001 1288.6) scale(1.12 1)" text-anchor="end">&#8722;0.2</text>
<text transform="translate(1569.6000000000001 1370.0) scale(1.12 1)" text-anchor="end">&#8722;0.3</text>
<text transform="translate(1699.2 1418.8) scale(1.17 1)" text-anchor="middle">&#8722;1.0</text>
<text transform="translate(1824.3 1418.8) scale(1.17 1)" text-anchor="middle">&#8722;0.5</text>
<text transform="translate(1949.1 1418.8) scale(1.17 1)" text-anchor="middle">0.0</text>
<text transform="translate(1588.5 1038.5) scale(1.12 1)">Pearson <tspan font-style="italic">r</tspan> = 0.81, <tspan font-style="italic">P</tspan> = 1.1e&#8722;15</text>
<text transform="translate(1785.5 1449.5) scale(1.18 1)" text-anchor="middle" font-size="25">Beta of European</text>
<text transform="translate(1508.7 1213) rotate(-90) scale(1 1.12)" text-anchor="middle" font-size="22.3">Beta of Hispanic</text>
</g>
</g>
</svg></body></html>
